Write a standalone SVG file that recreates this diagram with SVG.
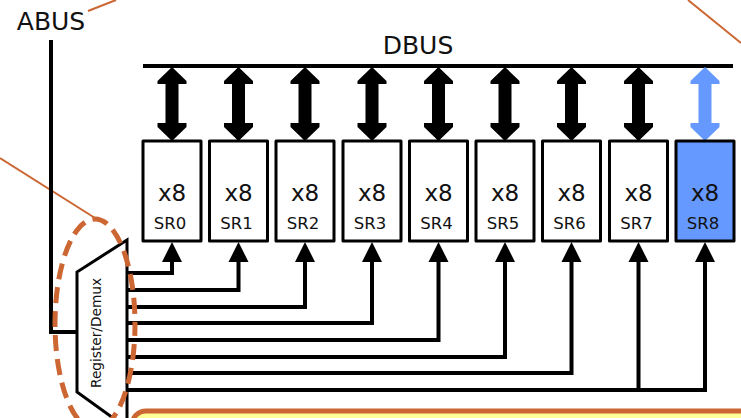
<svg xmlns="http://www.w3.org/2000/svg" width="741" height="418" viewBox="0 0 741 418">
<style>
text{font-family:"DejaVu Sans",sans-serif;fill:#111;text-anchor:middle}
.big{font-size:25px}.x{font-size:23px}.sr{font-size:16.500px}
.box{fill:#fff;stroke:#000;stroke-width:3;stroke-linejoin:round}
.wire{fill:none;stroke:#000;stroke-width:4;stroke-linejoin:miter}
.call{fill:none;stroke:#cc6633;stroke-width:2}
</style>
<defs>
<path id="dbl" d="M0 0L14.500 14V17H6.500V56H14.500V60L0 74L-14.500 60V56H-6.500V17H-14.500V14Z"/>
<path id="up" d="M0 0L10 20H-10Z" fill="#000"/>
</defs>
<rect width="741" height="418" fill="#fff"/>
<g id="callouts">
<path class="call" d="M88 11L116 0"/>
<path class="call" d="M0 158L95 218"/>
<path class="call" d="M688 0L741 43"/>
</g>
<g id="connectors">
<path class="wire" d="M143 66H733"/>
<path class="wire" d="M51 40V332H77"/>
<path class="wire" d="M127 273H172V262"/>
<path class="wire" d="M127 290H238.500V262"/>
<path class="wire" d="M127 307H305V262"/>
<path class="wire" d="M127 323H372V262"/>
<path class="wire" d="M127 340H438.500V262"/>
<path class="wire" d="M127 357H505V262"/>
<path class="wire" d="M127 373H571.500V262"/>
<path class="wire" d="M127 390H705V262M638.500 390V262"/>
<use href="#dbl" x="172" y="67"/><use href="#dbl" x="238.500" y="67"/><use href="#dbl" x="305" y="67"/><use href="#dbl" x="372" y="67"/><use href="#dbl" x="438.500" y="67"/><use href="#dbl" x="505" y="67"/><use href="#dbl" x="571.500" y="67"/><use href="#dbl" x="638.500" y="67"/><use href="#dbl" x="705" y="67" fill="#6699ff"/>
<use href="#up" x="172" y="242"/><use href="#up" x="238.500" y="242"/><use href="#up" x="305" y="242"/><use href="#up" x="372" y="242"/><use href="#up" x="438.500" y="242"/><use href="#up" x="505" y="242"/><use href="#up" x="571.500" y="242"/><use href="#up" x="638.500" y="242"/><use href="#up" x="705" y="242"/>
</g>
<g id="abus"><text class="big" x="51" y="30">ABUS</text></g>
<g id="dbus"><text class="big" x="418" y="54">DBUS</text></g>
<g id="sr0"><rect class="box" x="143" y="141" width="58" height="100"/><text class="x" x="172" y="201">x8</text><text class="sr" x="170" y="229">SR0</text></g>
<g id="sr1"><rect class="box" x="209.500" y="141" width="58" height="100"/><text class="x" x="238.500" y="201">x8</text><text class="sr" x="236.500" y="229">SR1</text></g>
<g id="sr2"><rect class="box" x="276" y="141" width="58" height="100"/><text class="x" x="305" y="201">x8</text><text class="sr" x="303" y="229">SR2</text></g>
<g id="sr3"><rect class="box" x="343" y="141" width="58" height="100"/><text class="x" x="372" y="201">x8</text><text class="sr" x="370" y="229">SR3</text></g>
<g id="sr4"><rect class="box" x="409.500" y="141" width="58" height="100"/><text class="x" x="438.500" y="201">x8</text><text class="sr" x="436.500" y="229">SR4</text></g>
<g id="sr5"><rect class="box" x="476" y="141" width="58" height="100"/><text class="x" x="505" y="201">x8</text><text class="sr" x="503" y="229">SR5</text></g>
<g id="sr6"><rect class="box" x="542.500" y="141" width="58" height="100"/><text class="x" x="571.500" y="201">x8</text><text class="sr" x="569.500" y="229">SR6</text></g>
<g id="sr7"><rect class="box" x="609.500" y="141" width="58" height="100"/><text class="x" x="638.500" y="201">x8</text><text class="sr" x="636.500" y="229">SR7</text></g>
<g id="sr8"><rect class="box" x="676" y="141" width="58" height="100" style="fill:#6699ff"/><text class="x" x="705" y="201">x8</text><text class="sr" x="703" y="229">SR8</text></g>
<g id="demux"><path d="M127 240L77 272V392L127 428Z" fill="#fff" stroke="#000" stroke-width="3"/><text font-size="13.700" transform="translate(100.500 333) rotate(-90)">Register/Demux</text></g>
<g id="highlight"><ellipse cx="95" cy="324" rx="40" ry="105" fill="none" stroke="#cc6633" stroke-width="5" stroke-dasharray="16 8" stroke-dashoffset="4"/></g>
<g id="panel"><rect x="132" y="411" width="640" height="60" rx="14" fill="#ffff99" stroke="#cc6633" stroke-width="5"/></g>
</svg>
